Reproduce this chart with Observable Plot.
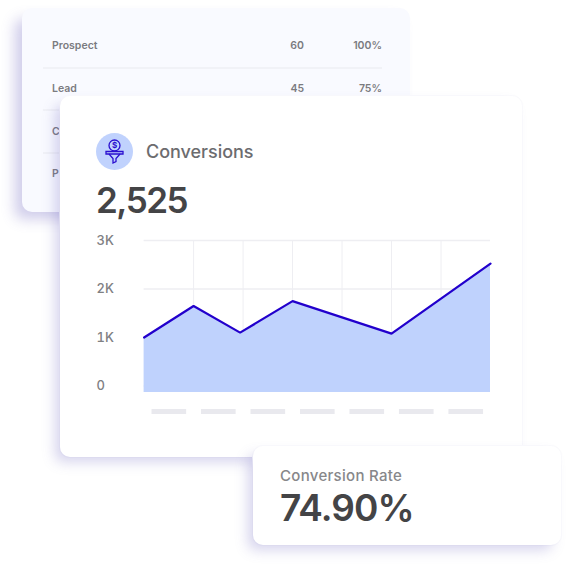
<!DOCTYPE html>
<html><head><meta charset="utf-8">
<script src="https://cdn.jsdelivr.net/npm/d3@7"></script>
<script src="https://cdn.jsdelivr.net/npm/@observablehq/plot@0.6"></script>
<style>
html,body{margin:0;padding:0;background:#fff;width:569px;height:567px;overflow:hidden;font-family:Inter,"Open Sans",sans-serif}
.card{position:absolute;border-radius:10px}
.abs{position:absolute;white-space:nowrap;line-height:1}
#back{left:22px;top:8px;width:388px;height:204px;background:#f9faff;box-shadow:-9px 9px 14px -2px rgba(105,95,190,.32);z-index:1}
#main{left:60px;top:96px;width:462px;height:361px;background:#fff;box-shadow:-7px 7px 13px -2px rgba(105,95,190,.27),0 0 0 1px #fbfbfd;z-index:2}
#rate{left:253px;top:446px;width:308px;height:99px;background:#fff;box-shadow:-7px 7px 13px -2px rgba(105,95,190,.27),0 0 0 1px #fbfbfd;z-index:4}
.tb{font-size:10.5px;font-weight:600;color:#7b7b7f;z-index:1}
.div{position:absolute;left:43px;width:339px;height:1.5px;background:#f1f2f7;z-index:1}
#chart{position:absolute;left:0;top:219.5px;z-index:3}
#chart svg{background:transparent;overflow:visible}
</style></head><body>
<div id="back" class="card"></div>
<div id="table"></div>
<div id="main" class="card"></div>
<svg class="abs" style="left:96px;top:133px;z-index:3" width="37" height="37" viewBox="0 0 37 37">
  <circle cx="18.5" cy="18.5" r="18.5" fill="#c0d2fd"/>
  <g fill="none" stroke="#2a0fd0" stroke-width="1.3">
    <circle cx="18.5" cy="12.5" r="5.5"/>
    <path d="M10 18.5H27V21H10Z"/>
    <path d="M13 21L17 25.5V30L20 28.5V25.5L24 21"/>
  </g>
  <text x="18.5" y="15.4" text-anchor="middle" font-size="8" font-weight="700" fill="#2a0fd0" font-family="Inter, sans-serif">$</text>
</svg>
<div class="abs" style="left:146px;top:143px;font-size:18px;font-weight:500;color:#6c6c6f;z-index:3;letter-spacing:-.03px">Conversions</div>
<div class="abs" style="left:96px;top:183px;font-size:35px;font-weight:600;color:#444446;z-index:3;letter-spacing:-1.5px">2,525</div>
<div id="chart"></div>
<div id="rate" class="card"></div>
<div class="abs" style="left:280px;top:468px;font-size:15px;font-weight:500;color:#87878a;z-index:5;letter-spacing:.3px">Conversion Rate</div>
<div class="abs" style="left:280px;top:489px;font-size:37px;font-weight:600;color:#444446;z-index:5;letter-spacing:-.9px">74.90%</div>
<script>
const rowNames = ["Prospect", "Lead", "C", "P"];
const rowCounts = ["60", "45", "", ""];
const rowShares = ["100%", "75%", "", ""];
const pointX = [0, 1, 1.94, 3, 5, 7];
const pointY = [1000, 1650, 1100, 1750, 1080, 2525];
const tickValues = [0, 1000, 2000, 3000];
const tickLabels = ["0", "1K", "2K", "3K"];
const gridX = [1, 2, 3, 4, 5, 6];
const placeholders = [0, 1, 2, 3, 4, 5, 6];
const baseline = -134;

const table = document.getElementById("table");
rowNames.forEach((n, i) => {
  const y = [45, 88, 131, 173][i];
  const add = (t, css) => { const d = document.createElement("div"); d.className = "abs tb"; d.textContent = t; d.style.cssText = css + `;top:${y - 4.5}px`; table.appendChild(d); };
  add(n, "left:52px");
  add(rowCounts[i], "right:265px");
  add(rowShares[i], "right:187px");
  if (i < 3) { const l = document.createElement("div"); l.className = "div"; l.style.top = [67, 109, 152][i] + "px"; table.appendChild(l); }
});

const data = pointX.map((x, i) => ({x, y: pointY[i]}));
const chart = Plot.plot({
  width: 569, height: 200,
  marginLeft: 143.6, marginRight: 79, marginTop: 20, marginBottom: 5,
  style: {background: "transparent", fontFamily: "Inter, sans-serif"},
  x: {domain: [0, 7], axis: null},
  y: {domain: [-608, 3000], axis: null},
  marks: [
    Plot.ruleY(tickValues, {stroke: "#eeeef2", strokeWidth: 1.3}),
    Plot.ruleX(gridX, {y1: baseline, y2: 3000, stroke: "#eeeef2", strokeWidth: 1}),
    Plot.areaY(data, {x: "x", y1: baseline, y2: "y", fill: "#bfd2fd"}),
    Plot.line(data, {x: "x", y: "y", stroke: "#2200cc", strokeWidth: 2.2, strokeLinejoin: "miter"}),
    Plot.rect(placeholders, {x1: d => d + 0.16, x2: d => d + 0.86, y1: -485, y2: -588, fill: "#e9e9ee"}),
    Plot.axisY({ticks: tickValues, tickSize: 0, tickFormat: d => tickLabels[tickValues.indexOf(d)], textAnchor: "start", dx: -47.6, tickPadding: 0, fontSize: 13, fontWeight: 500, fill: "#808083", label: null})
  ]
});
document.getElementById("chart").appendChild(chart);
</script>
</body></html>
